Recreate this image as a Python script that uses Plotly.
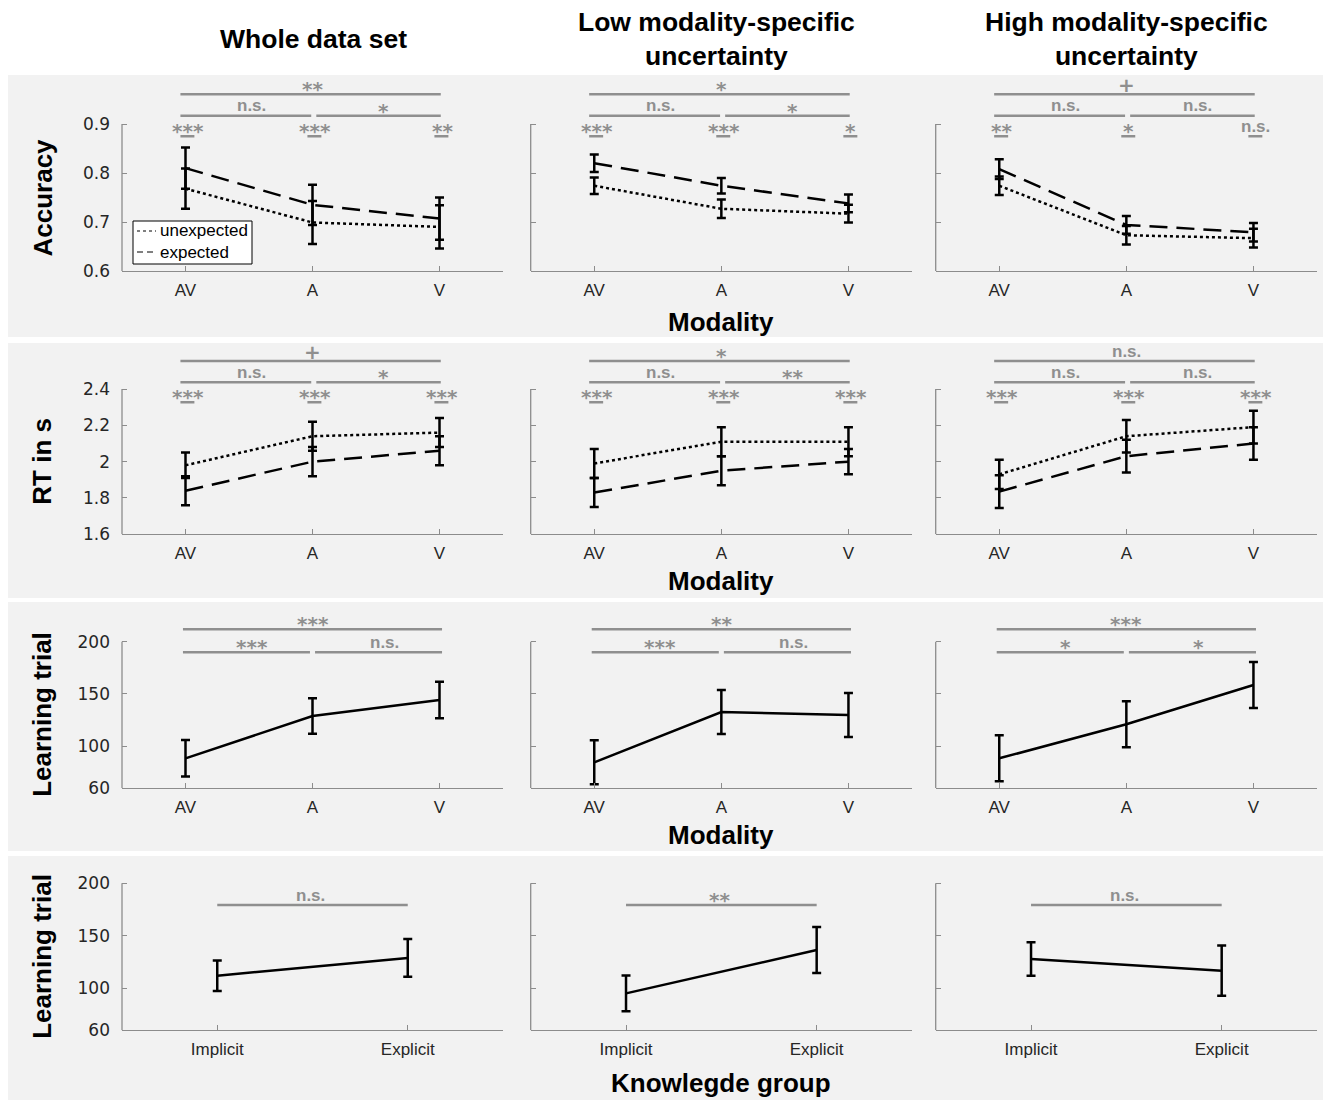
import plotly.graph_objects as go

W, H = 1323, 1100
BAND = "#f2f2f2"
AXC = "#8c8c8c"
SIGC = "#8f8f8f"
TICKC = "#262626"

# ---------------- data ----------------
cats = ["AV", "A", "V"]
groups = ["Implicit", "Explicit"]
col_titles = ["Whole data set", "Low modality-specific<br>uncertainty",
              "High modality-specific<br>uncertainty"]
row_titles = ["Accuracy", "RT in s", "Learning trial", "Learning trial"]
legend_names = ["unexpected", "expected"]

acc_unexp = [[0.768, 0.699, 0.690], [0.774, 0.727, 0.717], [0.774, 0.673, 0.667]]
acc_unexp_err = [[0.041, 0.044, 0.044], [0.017, 0.019, 0.018], [0.019, 0.019, 0.019]]
acc_exp = [[0.810, 0.735, 0.707], [0.820, 0.774, 0.738], [0.808, 0.694, 0.679]]
acc_exp_err = [[0.042, 0.041, 0.043], [0.018, 0.016, 0.018], [0.020, 0.018, 0.019]]

rt_unexp = [[1.98, 2.14, 2.16], [1.99, 2.11, 2.11], [1.93, 2.14, 2.19]]
rt_unexp_err = [[0.07, 0.08, 0.08], [0.08, 0.08, 0.08], [0.08, 0.09, 0.09]]
rt_exp = [[1.84, 2.00, 2.06], [1.83, 1.95, 2.00], [1.835, 2.03, 2.10]]
rt_exp_err = [[0.08, 0.08, 0.08], [0.08, 0.08, 0.07], [0.09, 0.09, 0.09]]

learn_mod = [[88.4, 128.9, 144.2], [84.6, 132.7, 129.9], [88.4, 121.0, 158.6]]
learn_mod_err = [[17.5, 17.0, 17.5], [21.0, 21.0, 21.0], [22.0, 22.0, 22.0]]

learn_grp = [[112.0, 128.9], [95.2, 136.5], [127.9, 116.8]]
learn_grp_err = [[14.6, 18.0], [17.0, 22.0], [16.0, 24.0]]

# significance labels: [top, left-pair, right-pair, per-category...]
sig_acc = [["**", "n.s.", "*", "***", "***", "**"],
           ["*", "n.s.", "*", "***", "***", "*"],
           ["+", "n.s.", "n.s.", "**", "*", "n.s."]]
sig_rt = [["+", "n.s.", "*", "***", "***", "***"],
          ["*", "n.s.", "**", "***", "***", "***"],
          ["n.s.", "n.s.", "n.s.", "***", "***", "***"]]
sig_learn = [["***", "***", "n.s."], ["**", "***", "n.s."], ["***", "*", "*"]]
sig_group = ["n.s.", "**", "n.s."]

y_ticks = [[0.6, 0.7, 0.8, 0.9], [1.6, 1.8, 2.0, 2.2, 2.4], [60, 100, 150, 200], [60, 100, 150, 200]]
y_ticktext = [["0.6", "0.7", "0.8", "0.9"], ["1.6", "1.8", "2", "2.2", "2.4"],
              ["60", "100", "150", "200"], ["60", "100", "150", "200"]]

# ---------------- layout geometry ----------------
col_px = [(122, 503), (530.7, 912), (935.7, 1317)]
row_px = [(75, 271), (343.6, 534.3), (601, 788), (855, 1030.3)]
yranges = [[0.6, 1.0], [1.6, 2.65], [60, 239], [60, 227]]
sig_levels = [[0.9606, 0.917, 0.875], [2.554, 2.437, 2.327], [211.9, 189.9], [179.3]]
bands = [(75, 337), (343, 598), (602, 851), (856, 1100)]

fig = go.Figure()

def axname(k, a):
    return a if k == 1 else f"{a}{k}"

def ref(k, a):
    return a if k == 1 else f"{a}{k}"

LINE_W = 2.5
DASH = "18px,9px"
ERR = dict(type="data", visible=True, color="black", thickness=2.5, width=4.5)

for r in range(4):
    for c in range(3):
        k = r * 3 + c + 1
        xr, yr = ref(k, "x"), ref(k, "y")
        if r < 2:
            if r == 0:
                u, ue, e, ee = acc_unexp[c], acc_unexp_err[c], acc_exp[c], acc_exp_err[c]
            else:
                u, ue, e, ee = rt_unexp[c], rt_unexp_err[c], rt_exp[c], rt_exp_err[c]
            fig.add_trace(go.Scatter(x=cats, y=e, mode="lines", name=legend_names[1],
                                     line=dict(color="black", width=LINE_W, dash=DASH),
                                     error_y=dict(array=ee, **ERR), xaxis=xr, yaxis=yr,
                                     showlegend=False))
            fig.add_trace(go.Scatter(x=cats, y=u, mode="lines", name=legend_names[0],
                                     line=dict(color="black", width=LINE_W, dash="dot"),
                                     error_y=dict(array=ue, **ERR), xaxis=xr, yaxis=yr,
                                     showlegend=False))
        elif r == 2:
            fig.add_trace(go.Scatter(x=cats, y=learn_mod[c], mode="lines",
                                     line=dict(color="black", width=LINE_W),
                                     error_y=dict(array=learn_mod_err[c], **ERR),
                                     xaxis=xr, yaxis=yr, showlegend=False))
        else:
            fig.add_trace(go.Scatter(x=groups, y=learn_grp[c], mode="lines",
                                     line=dict(color="black", width=LINE_W),
                                     error_y=dict(array=learn_grp_err[c], **ERR),
                                     xaxis=xr, yaxis=yr, showlegend=False))

shapes = []
annotations = []

# background bands
for (t, b) in bands:
    shapes.append(dict(type="rect", xref="paper", yref="paper", x0=8 / W, x1=1.0,
                       y0=1 - b / H, y1=1 - t / H, fillcolor=BAND, line=dict(width=0), layer="below"))

def sig_bar(k, x0, x1, y):
    shapes.append(dict(type="line", xref=ref(k, "x"), yref=ref(k, "y"), x0=x0, x1=x1, y0=y, y1=y,
                       line=dict(color=SIGC, width=2.5)))

def sig_txt(k, x, y, txt):
    ast = all(ch in "*+" for ch in txt)
    if ast:
        fam, size, ys = "DejaVu Sans", 20, (5 if "*" in txt else 9)
    else:
        fam, size, ys = "Liberation Sans", 17, 10
    annotations.append(dict(xref=ref(k, "x"), yref=ref(k, "y"), x=x, y=y, text=txt,
                            showarrow=False, yanchor="middle", xanchor="center", yshift=ys,
                            font=dict(family=fam, size=size, color=SIGC, weight="bold")))

layout = {}
for r in range(4):
    for c in range(3):
        k = r * 3 + c + 1
        xl, xr_ = col_px[c]
        yt, yb = row_px[r]
        ncat = 2 if r == 3 else 3
        layout[axname(k, "xaxis")] = dict(
            domain=[xl / W, xr_ / W], anchor=ref(k, "y"), range=[-0.5, ncat - 0.5],
            showline=True, linecolor=AXC, linewidth=1.3, ticks="inside", ticklen=5,
            tickcolor=AXC, tickwidth=1.3, showgrid=False, zeroline=False, automargin=False,
            tickfont=dict(family="Liberation Sans", size=17, color=TICKC),
            ticklabelstandoff=3, fixedrange=True)
        layout[axname(k, "yaxis")] = dict(
            domain=[1 - yb / H, 1 - yt / H], anchor=ref(k, "x"), range=yranges[r],
            showline=False, ticks="inside", ticklen=5, tickcolor=AXC, tickwidth=1.3,
            tickvals=y_ticks[r], ticktext=(y_ticktext[r] if c == 0 else [""] * len(y_ticks[r])),
            showgrid=False, zeroline=False, automargin=False,
            tickfont=dict(family="DejaVu Sans", size=17, color=TICKC),
            ticklabelstandoff=11, fixedrange=True)
        # y axis line up to top tick
        shapes.append(dict(type="line", xref=ref(k, "x") + " domain", yref=ref(k, "y"),
                           x0=0, x1=0, y0=y_ticks[r][0], y1=y_ticks[r][-1],
                           line=dict(color=AXC, width=1.3)))
        lv = sig_levels[r]
        if r < 2:
            labels = (sig_acc if r == 0 else sig_rt)[c]
            sig_bar(k, -0.04, 2.01, lv[0]); sig_txt(k, 1.0, lv[0], labels[0])
            sig_bar(k, -0.04, 0.99, lv[1]); sig_txt(k, 0.52, lv[1], labels[1])
            sig_bar(k, 1.03, 2.01, lv[1]); sig_txt(k, 1.56, lv[1], labels[2])
            for i in range(3):
                sig_bar(k, i - 0.04, i + 0.07, lv[2])
                sig_txt(k, i + 0.02, lv[2], labels[3 + i])
        elif r == 2:
            labels = sig_learn[c]
            sig_bar(k, -0.02, 2.02, lv[0]); sig_txt(k, 1.0, lv[0], labels[0])
            sig_bar(k, -0.02, 0.98, lv[1]); sig_txt(k, 0.52, lv[1], labels[1])
            sig_bar(k, 1.02, 2.02, lv[1]); sig_txt(k, 1.57, lv[1], labels[2])
        else:
            sig_bar(k, 0.0, 1.0, lv[0]); sig_txt(k, 0.49, lv[0], sig_group[c])

# legend box (row 1, column 1)
def px(x, y):
    return x / W, 1 - y / H

lx0, ly0 = px(133, 221)
lx1, ly1 = px(252, 264)
shapes.append(dict(type="rect", xref="paper", yref="paper", x0=lx0, x1=lx1, y0=ly1, y1=ly0,
                   fillcolor="white", line=dict(color="black", width=1)))
for i, (yy, dash) in enumerate([(231, "dot"), (252, "6px,4px")]):
    a0, b0 = px(137, yy)
    a1, _ = px(156, yy)
    shapes.append(dict(type="line", xref="paper", yref="paper", x0=a0, x1=a1, y0=b0, y1=b0,
                       line=dict(color="black", width=1, dash=dash)))
    tx, ty = px(158, yy)
    annotations.append(dict(xref="paper", yref="paper", x=tx, y=ty, text=legend_names[i],
                            showarrow=False, xanchor="left", yanchor="middle",
                            font=dict(family="Liberation Sans", size=17, color="black")))

# column titles
col_centers = [313, 716, 1126]
for c in range(3):
    annotations.append(dict(xref="paper", yref="paper", x=col_centers[c] / W, y=1 - 39 / H,
                            text=col_titles[c], showarrow=False, xanchor="center", yanchor="middle",
                            font=dict(family="Liberation Sans", size=26.5, color="black", weight="bold")))
# row titles
for r in range(4):
    yt, yb = row_px[r]
    ytop_px = yb - (y_ticks[r][-1] - yranges[r][0]) / (yranges[r][1] - yranges[r][0]) * (yb - yt)
    yc = (ytop_px + yb) / 2
    annotations.append(dict(xref="paper", yref="paper", x=42 / W, y=1 - yc / H, text=row_titles[r],
                            textangle=-90, showarrow=False, xanchor="center", yanchor="middle",
                            font=dict(family="Liberation Sans", size=26, color="black", weight="bold")))
# x titles
for ypx, txt in [(322, "Modality"), (581, "Modality"), (835, "Modality"), (1083, "Knowlegde group")]:
    annotations.append(dict(xref="paper", yref="paper", x=721 / W, y=1 - ypx / H, text=txt,
                            showarrow=False, xanchor="center", yanchor="middle",
                            font=dict(family="Liberation Sans", size=26, color="black", weight="bold")))

fig.update_layout(**layout)
fig.update_layout(
    width=W, height=H, autosize=False, margin=dict(l=0, r=0, t=0, b=0, pad=0),
    paper_bgcolor="white", plot_bgcolor="rgba(0,0,0,0)",
    shapes=shapes, annotations=annotations,
    showlegend=False,
    font=dict(family="Liberation Sans"),
)

fig.write_html("out.html", config={"displayModeBar": False, "responsive": False})
